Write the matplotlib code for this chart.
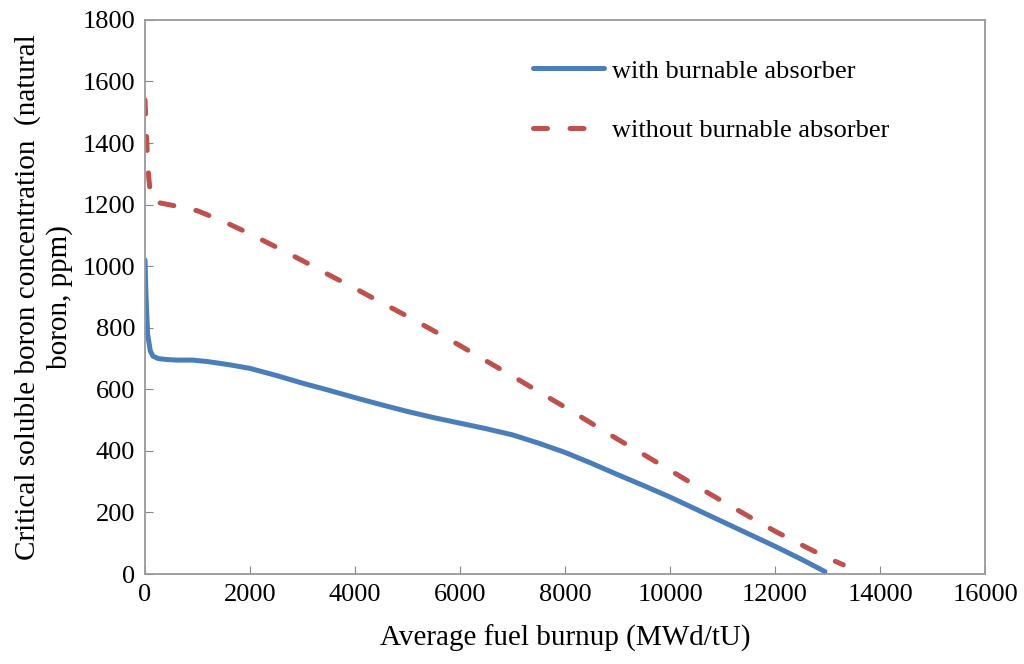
import numpy as np
import matplotlib
matplotlib.use("Agg")
import matplotlib.pyplot as plt

plt.rcParams['font.family'] = ['Liberation Serif', 'DejaVu Serif']

# with burnable absorber
bu_with = [0, 20, 50, 100, 150, 250, 400, 600, 900, 1200, 1600, 2000, 2500, 3000,
           3500, 4000, 4500, 5000, 5500, 6000, 6500, 7000, 7500, 8000, 8500, 9000,
           9500, 10000, 10500, 11000, 11500, 12000, 12500, 12950]
cb_with = [1020, 900, 780, 725, 708, 700, 697, 695, 695, 690, 680, 668, 645, 620,
           597, 573, 550, 528, 508, 490, 472, 452, 425, 395, 360, 323,
           287, 250, 210, 170, 130, 90, 48, 8]

# without burnable absorber
bu_without = [0, 15, 40, 70, 100, 150, 300, 600, 1000, 1500, 2000, 2500, 3000,
              3500, 4000, 4500, 5000, 5500, 6000, 6500, 7000, 7500, 8000, 8500,
              9000, 9500, 10000, 10500, 11000, 11500, 12000, 12500, 13000, 13300]
cb_without = [1540, 1480, 1380, 1290, 1240, 1210, 1205, 1195, 1180, 1145, 1105, 1062, 1018,
              972, 928, 882, 837, 790, 742, 692, 643, 592, 542, 490,
              438, 388, 337, 286, 236, 187, 139, 95, 52, 30]

fig = plt.figure(figsize=(10.24, 6.64), dpi=100)
ax = fig.add_axes([0.1416, 0.1355, 0.8204, 0.8345])

ax.plot(bu_with, cb_with, color='#4a7ebb', lw=3.6, solid_capstyle='round',
        label='with burnable absorber')
ax.plot(bu_without, cb_without, color='#c0504d', lw=3.6, dashes=(2.8, 4.5),
        dash_capstyle='round', label='without burnable absorber')

ax.set_xlim(0, 16000)
ax.set_ylim(0, 1800)
ax.set_xticks(np.arange(0, 16001, 2000))
ax.set_yticks(np.arange(0, 1801, 200))
ax.tick_params(direction='in', length=6, color='#888888', labelsize=19, pad=7)
for s in ax.spines.values():
    s.set_color('#999999')
    s.set_linewidth(1.3)

ax.set_xlabel('Average fuel burnup (MWd/tU)', fontsize=21, labelpad=14)
ax.set_ylabel('Critical soluble boron concentration  (natural\nboron, ppm)',
              fontsize=21, labelpad=7, linespacing=1.25)

leg = ax.legend(loc='upper left', bbox_to_anchor=(0.433, 0.972), frameon=False,
                fontsize=19, handlelength=2.7, labelspacing=1.35, handletextpad=0.3)

fig.savefig('out.png', dpi=100)
